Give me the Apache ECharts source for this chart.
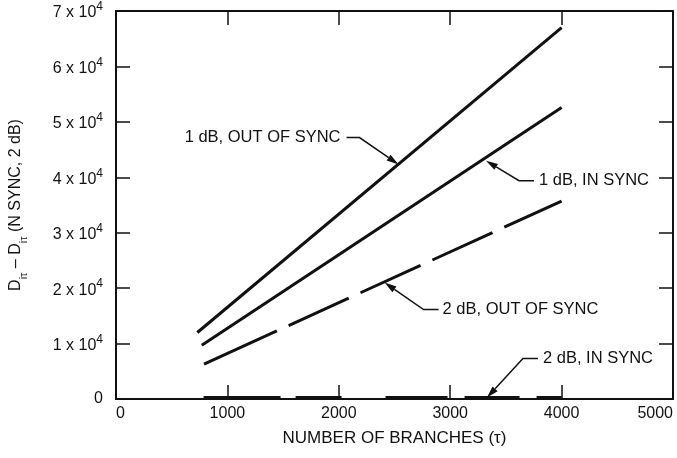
<!DOCTYPE html>
<html><head><meta charset="utf-8">
<script src="https://cdn.jsdelivr.net/npm/echarts@6/dist/echarts.min.js"></script>
<style>html,body{margin:0;padding:0;background:#fff}#c{width:677px;height:458px}</style>
</head><body><div id="c"></div>
<script>
// ---- data ----
const xMin = 0, xMax = 5000, xStep = 1000;
const yMin = 0, yMax = 70000, yStep = 10000;
const oneDbOutOfSync = [[730, 12000], [4000, 67000]];
const oneDbInSync    = [[770, 9700],  [4000, 52600]];
const twoDbOutOfSync = [[790, 6300],  [4000, 35700]];
const twoDbInSync    = [[786, 250],   [4000, 250]];
const annotationLabels  = ['1 dB, OUT OF SYNC', '1 dB, IN SYNC', '2 dB, OUT OF SYNC', '2 dB, IN SYNC'];
const annotationAnchors = [[2536, 42300], [3321, 43000], [2411, 21000], [3330, 250]];

const FONT = 'Liberation Sans, Arial, sans-serif';
const INK = '#111';
const chart = echarts.init(document.getElementById('c'), null, {renderer: 'canvas'});

function lineSeries(name, data, type) {
  return {
    name, type: 'line', data, showSymbol: false, symbol: 'none', animation: false,
    xAxisIndex: 0, yAxisIndex: 0,
    lineStyle: {color: INK, width: 3, type: type || 'solid', cap: 'butt'}
  };
}

const axisCommon = {
  axisLine: {show: true, onZero: false, lineStyle: {color: INK, width: 2}},
  axisTick: {show: true, inside: true, length: 14, lineStyle: {color: INK, width: 1.5}},
  splitLine: {show: false}
};

chart.setOption({
  animation: false,
  backgroundColor: '#fff',
  grid: {left: 113, right: 4, top: 11, bottom: 59, containLabel: false},
  xAxis: [
    Object.assign({
      type: 'value', min: xMin, max: xMax, interval: xStep, position: 'bottom',
      name: 'NUMBER OF BRANCHES (τ)', nameLocation: 'middle', nameGap: 31,
      nameTextStyle: {fontFamily: FONT, fontSize: 17, color: INK},
      axisLabel: {fontFamily: FONT, fontSize: 16, color: INK, margin: 7,
        formatter: v => String(v),
        alignMinLabel: 'left', alignMaxLabel: 'right'}
    }, axisCommon),
    Object.assign({
      type: 'value', min: xMin, max: xMax, interval: xStep, position: 'top',
      axisLabel: {show: false}
    }, axisCommon)
  ],
  yAxis: [
    Object.assign({
      type: 'value', min: yMin, max: yMax, interval: yStep, position: 'left',
      name: '{d|D}{s|iτ}{d| – D}{s|iτ}{d| (N SYNC, 2 dB)}', nameLocation: 'middle', nameGap: 87,
      nameTextStyle: {fontFamily: FONT, fontSize: 16, color: INK,
        rich: {
          d: {fontFamily: FONT, fontSize: 16, color: INK, lineHeight: 21, verticalAlign: 'top'},
          s: {fontFamily: FONT, fontSize: 11, color: INK, lineHeight: 21, verticalAlign: 'bottom'}
        }},
      axisLabel: {
        margin: 13, color: INK, fontFamily: FONT, fontSize: 16,
        formatter: v => v === 0 ? '{z|0}' : '{a|' + (v / 10000) + ' x 10}{s|4}',
        rich: {
          z: {fontFamily: FONT, fontSize: 16, color: INK},
          a: {fontFamily: FONT, fontSize: 16, color: INK, lineHeight: 20, verticalAlign: 'bottom'},
          s: {fontFamily: FONT, fontSize: 12, color: INK, lineHeight: 20, verticalAlign: 'top'}
        }
      }
    }, axisCommon),
    Object.assign({
      type: 'value', min: yMin, max: yMax, interval: yStep, position: 'right',
      axisLabel: {show: false}
    }, axisCommon)
  ],
  series: [
    lineSeries('1 dB, OUT OF SYNC', oneDbOutOfSync),
    lineSeries('1 dB, IN SYNC', oneDbInSync),
    lineSeries('2 dB, OUT OF SYNC', twoDbOutOfSync, [80, 13, 66, 13, 66, 13, 66, 13, 66, 13]),
    lineSeries('2 dB, IN SYNC', twoDbInSync, [77, 15, 46, 44, 62, 17, 55, 17, 30, 10])
  ]
});

// ---- annotation leaders, positioned from data coordinates ----
// offsets (px) relative to arrow tip: elbow, leader start, text anchor, text align
const leaderShapes = [
  {elbow: [-39, -27], start: [-52, -27], text: [-58, -27], align: 'right'},
  {elbow: [33, 20],   start: [48, 20],   text: [53, 20],   align: 'left'},
  {elbow: [39, 27],   start: [54, 27],   text: [58, 27],   align: 'left'},
  {elbow: [36, -39],  start: [51, -39],  text: [56, -39],  align: 'left'}
];
const graphics = [];
annotationAnchors.forEach((a, i) => {
  const tip = chart.convertToPixel({xAxisIndex: 0, yAxisIndex: 0}, a);
  const sh = leaderShapes[i];
  const el = [tip[0] + sh.elbow[0], tip[1] + sh.elbow[1]];
  const st = [tip[0] + sh.start[0], tip[1] + sh.start[1]];
  const dx = tip[0] - el[0], dy = tip[1] - el[1];
  const len = Math.hypot(dx, dy), ux = dx / len, uy = dy / len;
  const hl = 12, hw = 3.5;
  const bx = tip[0] - ux * hl, by = tip[1] - uy * hl;
  graphics.push({
    type: 'polyline', silent: true, z: 10,
    shape: {points: [st, el, [bx, by]]},
    style: {stroke: INK, lineWidth: 1.5, fill: null}
  });
  graphics.push({
    type: 'polygon', silent: true, z: 10,
    shape: {points: [tip, [bx - uy * hw, by + ux * hw], [bx + uy * hw, by - ux * hw]]},
    style: {fill: INK}
  });
  graphics.push({
    type: 'text', silent: true, z: 10,
    x: tip[0] + sh.text[0], y: tip[1] + sh.text[1],
    style: {text: annotationLabels[i], fill: INK, font: '16.5px ' + FONT,
      align: sh.align, verticalAlign: 'middle'}
  });
});
chart.setOption({graphic: graphics});
</script>
</body></html>
